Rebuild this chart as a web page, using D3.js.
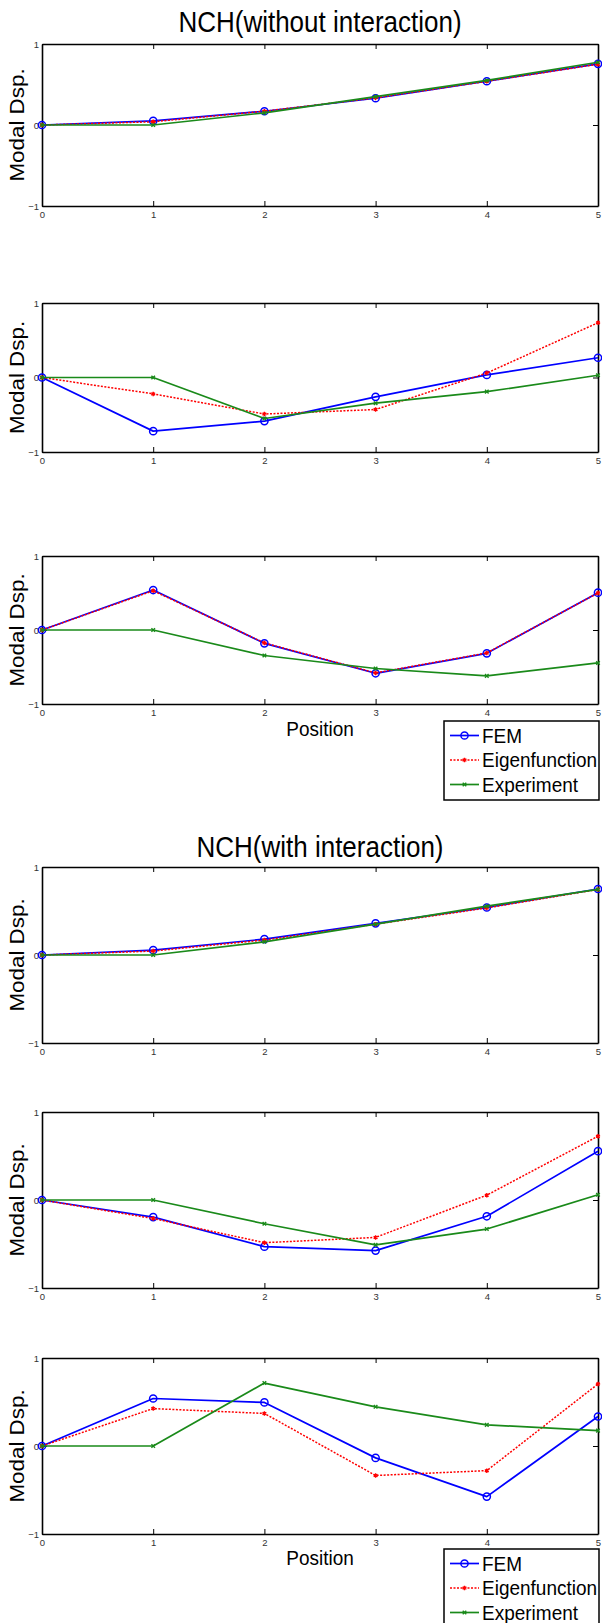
<head>
    <meta charset="utf-8">
    <style> body { margin: 0; background: #fff; } </style>
    <script src="https://cdn.jsdelivr.net/npm/d3@7"></script>
</head>
<body>
<div id="chart"></div>
<script>

var positions = [0, 1, 2, 3, 4, 5];
var yTickValues = [-1, 0, 1];
var seriesNames = ["FEM", "Eigenfunction", "Experiment"];
var figureTitles = ["NCH(without interaction)", "NCH(with interaction)"];

// without interaction, modes 1-3
var femA1 = [0, 0.05, 0.17, 0.33, 0.54, 0.755];
var eigA1 = [0, 0.04, 0.17, 0.335, 0.54, 0.75];
var expA1 = [0, 0, 0.15, 0.35, 0.55, 0.775];

var femA2 = [0, -0.72, -0.585, -0.26, 0.035, 0.265];
var eigA2 = [0, -0.22, -0.49, -0.43, 0.06, 0.735];
var expA2 = [0, 0, -0.55, -0.345, -0.19, 0.03];

var femA3 = [0, 0.54, -0.18, -0.585, -0.315, 0.505];
var eigA3 = [0, 0.53, -0.175, -0.58, -0.31, 0.50];
var expA3 = [0, 0, -0.345, -0.52, -0.62, -0.445];

// with interaction, modes 1-3
var femB1 = [0, 0.055, 0.18, 0.36, 0.54, 0.75];
var eigB1 = [0, 0.045, 0.17, 0.35, 0.535, 0.745];
var expB1 = [0, 0, 0.15, 0.35, 0.555, 0.745];

var femB2 = [0, -0.195, -0.53, -0.575, -0.185, 0.555];
var eigB2 = [0, -0.21, -0.485, -0.425, 0.055, 0.725];
var expB2 = [0, 0, -0.27, -0.51, -0.33, 0.06];

var femB3 = [0, 0.54, 0.495, -0.135, -0.575, 0.335];
var eigB3 = [0, 0.425, 0.37, -0.335, -0.28, 0.705];
var expB3 = [0, 0, 0.715, 0.445, 0.24, 0.175];

var W = 602, H = 1623;
var FONT = "'Liberation Sans', Arial, sans-serif";
var colors = ["#0000ff", "#ff0000", "#1a8a1a"];
var stretch = 1.1;

var svg = d3.select("#chart").append("svg")
    .attr("width", W)
    .attr("height", H)
    .style("font-family", FONT);

var x = d3.scaleLinear().domain([0, 5]).range([42, 598]);
var fmt = d3.format("d");

function marker(g, i, cx, cy) {
    if (i === 0) {
        g.append("circle").attr("cx", cx).attr("cy", cy).attr("r", 3.6)
            .attr("fill", "none").attr("stroke", colors[0]).attr("stroke-width", 1.5);
    } else {
        var sym = i === 1 ? d3.symbolAsterisk : d3.symbolTimes;
        g.append("path")
            .attr("d", d3.symbol().type(sym).size(i === 1 ? 14 : 10)())
            .attr("transform", "translate(" + cx + "," + cy + ")")
            .attr("fill", "none").attr("stroke", colors[i]).attr("stroke-width", 1.4);
    }
}

function styleLine(p, i) {
    p.attr("fill", "none")
        .attr("stroke", colors[i])
        .attr("stroke-width", i === 1 ? 1.5 : 1.7)
        .attr("stroke-dasharray", i === 1 ? "2,1.5" : null)
        .attr("stroke-linejoin", "round");
}

function stretchedText(g, tx, ty, str, size, anchor) {
    return g.append("text")
        .attr("transform", "translate(" + tx + "," + ty + ") scale(1," + stretch + ")")
        .attr("text-anchor", anchor || "middle")
        .attr("font-size", size)
        .attr("fill", "#000")
        .text(str);
}

function addPanel(top, bottom, series) {
    var y = d3.scaleLinear().domain([-1, 1]).range([bottom, top]);
    var g = svg.append("g");

    g.append("g").attr("transform", "translate(0," + bottom + ")")
        .call(d3.axisBottom(x).tickValues(positions).tickFormat(fmt).tickSize(-5).tickSizeOuter(0).tickPadding(5));
    g.append("g").attr("transform", "translate(0," + top + ")")
        .call(d3.axisTop(x).tickValues(positions).tickSize(-5).tickSizeOuter(0).tickFormat(""));
    g.append("g").attr("transform", "translate(" + x(0) + ",0)")
        .call(d3.axisLeft(y).tickValues(yTickValues).tickFormat(fmt).tickSize(-5).tickSizeOuter(0).tickPadding(3));
    g.append("g").attr("transform", "translate(" + x(5) + ",0)")
        .call(d3.axisRight(y).tickValues(yTickValues).tickSize(-5).tickSizeOuter(0).tickFormat(""));

    g.selectAll(".domain").attr("stroke", "#000").attr("stroke-width", 1.6);
    g.selectAll(".tick line").attr("stroke", "#000").attr("stroke-width", 1);
    g.selectAll(".tick text").attr("font-family", FONT).attr("font-size", 9.5).attr("fill", "#333");

    var line = d3.line().x(function(d, i) { return x(positions[i]); }).y(function(d) { return y(d); });

    series.forEach(function(vals, i) {
        g.append("path").datum(vals).attr("d", line).call(styleLine, i);
        vals.forEach(function(v, j) { marker(g, i, x(positions[j]), y(v)); });
    });

    g.append("text")
        .attr("transform", "translate(24," + ((top + bottom) / 2) + ") rotate(-90) scale(1.12,1)")
        .attr("text-anchor", "middle")
        .attr("font-size", 20)
        .text("Modal Dsp.");
}

function addLegend(top) {
    var g = svg.append("g");
    g.append("rect").attr("x", 444).attr("y", top).attr("width", 155).attr("height", 79)
        .attr("fill", "#fff").attr("stroke", "#000").attr("stroke-width", 1.5);
    seriesNames.forEach(function(name, i) {
        var cy = top + 14.5 + i * 24.5;
        g.append("line").attr("x1", 450).attr("x2", 479).attr("y1", cy).attr("y2", cy).call(styleLine, i);
        marker(g, i, 464.5, cy);
        stretchedText(g, 482, cy + 7, name, 19, "start");
    });
}

// figure 1
stretchedText(svg, 320, 32, figureTitles[0], 26);
addPanel(44, 206, [femA1, eigA1, expA1]);
addPanel(303, 452, [femA2, eigA2, expA2]);
addPanel(556, 704, [femA3, eigA3, expA3]);
stretchedText(svg, 320, 736, "Position", 19);
addLegend(721);

// figure 2
stretchedText(svg, 320, 857, figureTitles[1], 26);
addPanel(867, 1043, [femB1, eigB1, expB1]);
addPanel(1112, 1288, [femB2, eigB2, expB2]);
addPanel(1358, 1534, [femB3, eigB3, expB3]);
stretchedText(svg, 320, 1565, "Position", 19);
addLegend(1549);

</script>
</body>
